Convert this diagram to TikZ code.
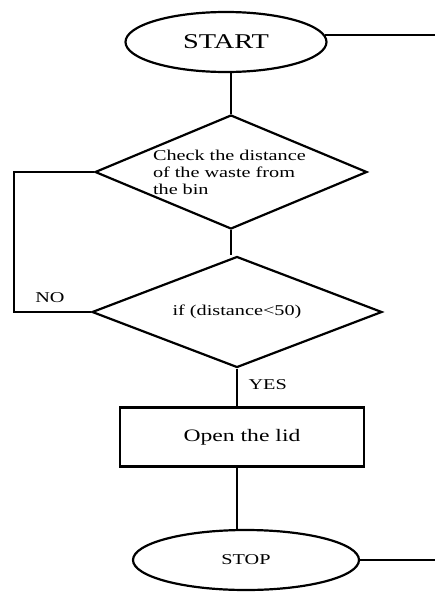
\documentclass[tikz,border=0pt]{standalone}
\usepackage{fontspec}
\setmainfont{Liberation Serif}[FakeStretch=1.35]
\usetikzlibrary{shapes.geometric}

\begin{document}
\begin{tikzpicture}
  [
    x                  = 1pt,
    y                  = -1pt,
    every node/.style  = {font=\fontsize{15}{17}\selectfont},
    terminal/.style    = {draw, ellipse, line width=2.2pt, minimum height=60pt, inner sep=0pt},
    decision/.style    = {draw, diamond, line width=2.2pt, inner sep=0pt},
    process/.style     = {draw, rectangle, line width=2.2pt, minimum width=244pt, minimum height=59pt},
    flow/.style        = {draw, line width=2.2pt}
  ]
  \useasboundingbox (0,0) rectangle (435,592);

  % shapes
  \node[terminal, minimum width=201pt, font=\fontsize{21}{25}\selectfont] (start) at (226,42) { START };
  \node[decision, aspect=2.4, minimum width=272pt, minimum height=114pt, text width=156pt, align=left] (check) at (231,172)
    { Check the distance\\ of the waste from\\ the bin };
  \node[decision, aspect=2.6, minimum width=290pt, minimum height=111pt] (decide) at (237,312) { if (distance<50) };
  \node[process, font=\fontsize{17.5}{20}\selectfont] (lid) at (242,437) { Open the lid };
  \node[terminal, minimum width=226pt] (stop) at (246,560) { STOP };

  % labels
  \node (no) at (50,298) { NO };
  \node[anchor=west] (yes) at (245,385) { YES };

  % free ends
  \coordinate (topout) at (435,35);
  \coordinate (bottomout) at (435,560);
  \coordinate (loop) at (14,312);

  % connectors
  \draw[flow] (start.4) -- (start.4 -| topout);
  \draw[flow] (check.north) -- (check.north |- start.south);
  \draw[flow] (check.south) -- (check.south |- decide.north);
  \draw[flow] (decide.west) -- (loop) |- (check.west);
  \draw[flow] (decide.south) -- (decide.south |- lid.north);
  \draw[flow] (lid.south -| decide.south) -- (decide.south |- stop.north);
  \draw[flow] (stop.east) -- (bottomout);
\end{tikzpicture}
\end{document}
